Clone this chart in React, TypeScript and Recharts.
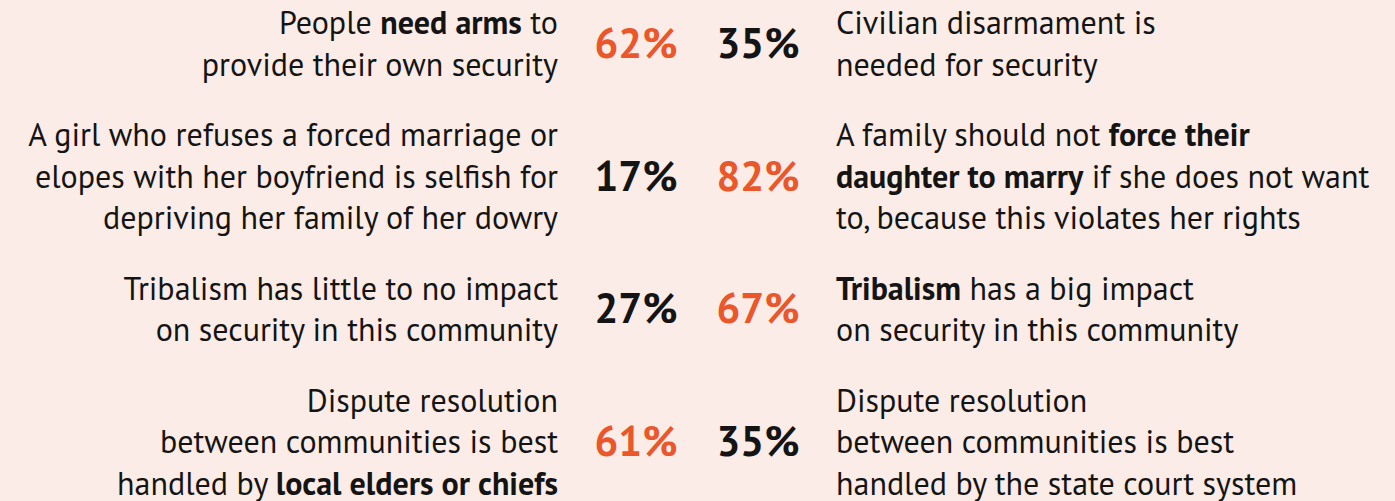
import React from 'react';
import { ScatterChart, Scatter, XAxis, YAxis } from 'recharts';

const rows = [0, 1, 2, 3];
const leftValues = [62, 17, 27, 61];
const rightValues = [35, 82, 67, 35];
const leftStatements: string[][] = [
  ['People **need arms** to', 'provide their own security'],
  ['A girl who refuses a forced marriage or', 'elopes with her boyfriend is selfish for', 'depriving her family of her dowry'],
  ['Tribalism has little to no impact', 'on security in this community'],
  ['Dispute resolution', 'between communities is best', 'handled by **local elders or chiefs**'],
];
const rightStatements: string[][] = [
  ['Civilian disarmament is', 'needed for security'],
  ['A family should not **force their**', '**daughter to marry** if she does not want', 'to, because this violates her rights'],
  ['**Tribalism** has a big impact', 'on security in this community'],
  ['Dispute resolution', 'between communities is best', 'handled by the state court system'],
];

const ORANGE = '#e9572b';
const INK = '#141414';
const BG = '#fbece7';
const FONT = "'PT Sans', 'Liberation Sans Narrow', 'DejaVu Sans Condensed', 'Open Sans', sans-serif";
const LINE_H = 41.5;
const FS = 32;
const PCT_FS = 42;

const leftData = rows.map((r, i) => ({ col: 0, row: r, value: leftValues[i], other: rightValues[i] }));
const rightData = rows.map((r, i) => ({ col: 1, row: r, value: rightValues[i], other: leftValues[i] }));

function renderLine(line: string) {
  const parts = line.split('**');
  return parts.map((p, k) =>
    p === '' ? null : (
      <tspan key={k} fontWeight={k % 2 === 1 ? 700 : 400}>
        {p}
      </tspan>
    )
  );
}

function makeTick(statements: string[][], anchor: 'start' | 'end') {
  return (props: any) => {
    const { x, y, payload } = props;
    const lines = statements[payload.value] || [];
    const n = lines.length;
    return (
      <g>
        {lines.map((line, i) => (
          <text
            key={i}
            x={x}
            y={y + (i - (n - 1) / 2) * LINE_H + 10}
            textAnchor={anchor}
            fontFamily={FONT}
            fontSize={FS}
            fill={INK}
          >
            {renderLine(line)}
          </text>
        ))}
      </g>
    );
  };
}

const PctShape = (p: any) => {
  const { cx, cy, payload } = p;
  return (
    <text
      x={cx}
      y={cy + 13}
      textAnchor="middle"
      fontFamily={FONT}
      fontSize={PCT_FS}
      fontWeight={700}
      fill={payload.value > payload.other ? ORANGE : INK}
    >
      {payload.value}%
    </text>
  );
};

export default function App() {
  return (
    <div style={{ position: 'absolute', left: 0, top: 0, width: 1395, height: 501, background: BG }}>
      <ScatterChart width={1395} height={501} margin={{ top: 0, right: 0, bottom: 0, left: 0 }}>
        <XAxis type="number" dataKey="col" domain={[0, 1]} padding={{ left: 60, right: 60 }} hide />
        <YAxis
          yAxisId="left"
          type="number"
          dataKey="row"
          domain={[0, 3]}
          ticks={rows}
          interval={0}
          reversed
          padding={{ top: 45, bottom: 58 }}
          width={576}
          axisLine={false}
          tickLine={false}
          tickSize={0}
          tickMargin={18}
          tick={makeTick(leftStatements, 'end')}
        />
        <YAxis
          yAxisId="right"
          orientation="right"
          type="number"
          dataKey="row"
          domain={[0, 3]}
          ticks={rows}
          interval={0}
          reversed
          padding={{ top: 45, bottom: 58 }}
          width={577}
          axisLine={false}
          tickLine={false}
          tickSize={0}
          tickMargin={18}
          tick={makeTick(rightStatements, 'start')}
        />
        <Scatter yAxisId="left" data={leftData} shape={PctShape} isAnimationActive={false} />
        <Scatter yAxisId="right" data={rightData} shape={PctShape} isAnimationActive={false} />
      </ScatterChart>
    </div>
  );
}
